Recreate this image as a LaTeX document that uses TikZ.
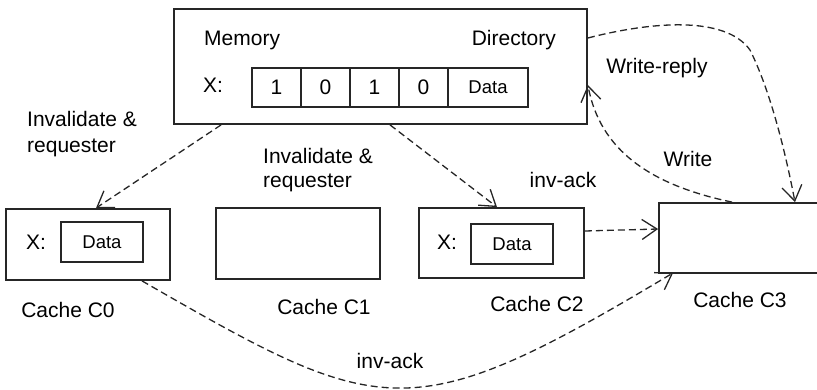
\documentclass[tikz,border=0pt]{standalone}
\usepackage{fontspec}
\setmainfont{Liberation Sans}
\usetikzlibrary{arrows.meta}

\begin{document}
\begin{tikzpicture}[
    x=1pt, y=-1pt,
    font=\fontsize{21}{26}\selectfont,
    box/.style={
      rectangle,
      draw=black!85,
      line width=1.8pt,
      inner sep=0pt
    },
    cell/.style={
      box,
      minimum width=49pt,
      minimum height=39pt
    },
    datacell/.style={
      box,
      minimum width=82pt,
      minimum height=40pt,
      font=\fontsize{18.5}{22}\selectfont
    },
    cache/.style={
      box,
      minimum width=164pt,
      minimum height=71pt
    },
    lbl/.style={
      inner sep=0pt
    },
    msg/.style={
      -{Straight Barb[length=15pt,width=20pt]},
      draw=black!85,
      line width=1.3pt,
      dash pattern=on 7pt off 4pt
    }
  ]
    \useasboundingbox (0,0) rectangle (817,390);
    \clip (0,0) rectangle (817,390);

    % memory with directory entry
    \node[box, minimum width=413pt, minimum height=115pt] (mem) at (380.5,66.5) {};
    \node[lbl, anchor=base west] (memlbl) at (204,46) {Memory};
    \node[lbl, anchor=base east] (dirlbl) at (556,46) {Directory};
    \node[lbl, anchor=base west] (memx) at (203,93) {X:};
    \foreach \v [count=\i] in {1,0,1,0}
      \node[cell] (b\i) at ({227.5+49*\i},87.5) {\v};
    \node[datacell, minimum width=80pt, minimum height=39pt] (memdata) at (488,87.5) {Data};

    % caches
    \node[cache] (c0) at (88,244.5) {};
    \node[datacell] (c0data) at (102,242) {Data};
    \node[lbl, anchor=base west] (c0x) at (26,250) {X:};
    \node[cache] (c1) at (298,243.5) {};
    \node[cache, minimum width=165pt, minimum height=70pt] (c2) at (501.5,243) {};
    \node[datacell] (c2data) at (512,244) {Data};
    \node[lbl, anchor=base west] (c2x) at (437,250) {X:};
    \node[cache, minimum width=200pt, minimum height=70pt] (c3) at (759,238) {};

    \node[lbl, anchor=base] (c0lbl) at (68,317) {Cache C0};
    \node[lbl, anchor=base] (c1lbl) at (324,315) {Cache C1};
    \node[lbl, anchor=base] (c2lbl) at (537,312) {Cache C2};
    \node[lbl, anchor=base] (c3lbl) at (740,308) {Cache C3};

    % message labels
    \node[lbl, anchor=base west, align=left] (inv0) at (27,153) {Invalidate \&\\requester};
    \node[lbl, anchor=base west, align=left, font=\fontsize{21}{24.5}\selectfont] (inv2) at (263,188) {Invalidate \&\\requester};
    \node[lbl, anchor=base] (ack2) at (563,188) {inv-ack};
    \node[lbl, anchor=base] (ack0) at (390,368) {inv-ack};
    \node[lbl, anchor=base] (wrlbl) at (688,167) {Write};
    \node[lbl, anchor=base] (replbl) at (657,74) {Write-reply};

    % messages
    \draw[msg] ([xshift=48]mem.south west) -- ([xshift=8]c0.north);
    \draw[msg] ([xshift=9.5]mem.south) -- ([xshift=-4.5]c2.north);
    \draw[msg] ([yshift=12]c2.east) -- ([yshift=9]c3.west);
    \draw[msg] ([xshift=54]c0.south) .. controls (382,419) and (409,431) .. ([xshift=15,yshift=1]c3.south west);
    \draw[msg] ([yshift=28.5]mem.east) .. controls (650,22) and (725,15) .. (750,50)
      .. controls (770,90) and (785,150) .. ([xshift=36]c3.north);
    \draw[msg] ([xshift=-27]c3.north) .. controls (650,185) and (600,150) .. ([yshift=-18.5]mem.east);
  \end{tikzpicture}
\end{document}
